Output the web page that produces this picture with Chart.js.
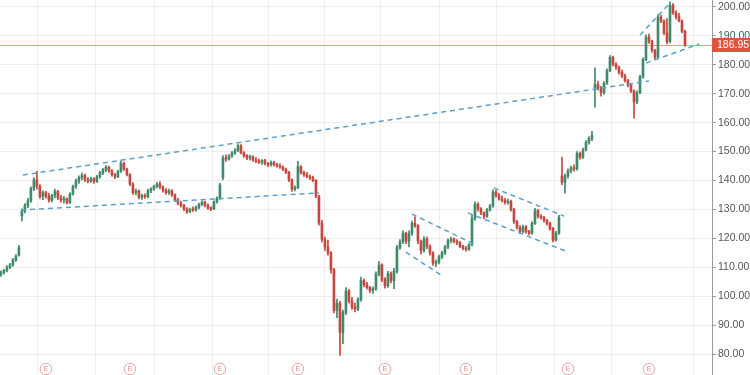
<!DOCTYPE html>
<html><head><meta charset="utf-8">
<script src="https://cdn.jsdelivr.net/npm/chart.js@4/dist/chart.umd.min.js"></script>
<style>html,body{margin:0;padding:0;background:#fff}#wrap{width:750px;height:375px}</style>
</head><body><div id="wrap"><canvas id="c" width="750" height="375"></canvas></div>
<script>
const opens = [107.5,108.2,108.9,110.0,110.8,112.5,114.2,127.8,129.5,131.4,
133.0,137.2,140.3,138.0,134.5,135.8,134.6,133.2,134.8,136.2,
134.0,133.3,133.7,132.4,135.3,137.9,139.8,141.0,141.8,140.3,
139.8,140.6,139.7,141.3,142.6,143.7,144.6,143.4,142.0,141.3,
143.1,146.0,144.0,142.0,138.8,135.8,136.4,134.2,134.8,134.4,
136.5,137.1,137.9,138.8,137.8,136.6,135.8,136.4,135.0,133.3,
132.2,131.4,130.2,129.2,130.0,129.8,130.7,131.8,132.5,131.4,
130.5,130.2,132.6,133.9,141.0,147.8,147.4,148.5,149.5,150.4,
152.0,149.6,148.6,147.8,148.2,147.1,146.7,146.4,146.9,145.9,
145.4,146.2,145.5,145.0,144.7,143.9,142.9,140.2,137.0,137.6,
144.8,142.8,142.0,141.4,141.0,140.1,134.6,125.3,119.6,117.0,
115.0,109.2,95.0,97.6,87.5,94.4,101.8,98.4,96.2,95.6,
98.8,105.4,104.0,103.0,102.0,102.6,107.6,110.8,105.8,103.6,
107.8,105.4,108.6,116.8,118.8,121.8,119.0,121.6,125.2,124.4,
119.0,115.8,119.8,117.2,115.0,111.4,111.8,113.6,115.0,117.0,
119.2,119.8,118.9,118.6,117.2,116.6,116.2,117.8,126.8,131.8,
130.2,128.8,127.6,129.8,131.2,136.0,134.8,133.6,133.2,132.4,
132.8,130.0,125.8,123.8,122.4,124.0,122.4,121.8,125.2,129.6,
127.6,127.2,126.2,125.2,123.4,119.4,121.8,141.6,139.4,141.6,
143.4,144.4,144.0,149.4,148.0,150.6,153.2,154.6,172.0,173.2,
172.0,170.4,173.6,178.0,182.6,180.2,179.2,177.4,176.2,174.6,
173.0,171.0,167.2,170.4,175.8,181.8,189.6,188.2,185.0,182.6,
196.6,195.2,191.0,188.0,200.6,198.0,196.6,195.2,191.6];
const highs = [108.8,109.3,110.6,111.4,113.1,114.4,117.6,130.2,132.0,133.8,
137.8,141.0,143.2,138.6,136.4,136.3,135.6,135.2,137.0,136.6,
134.9,134.5,134.0,135.8,138.4,140.5,141.6,142.6,142.2,141.0,
141.2,141.0,141.8,143.2,144.2,145.2,145.0,143.8,142.5,143.6,
146.8,146.4,144.3,142.4,139.3,137.0,136.8,135.3,135.4,137.0,
137.6,138.4,139.4,139.6,138.2,137.2,137.0,136.9,135.4,133.8,
132.9,131.8,130.6,130.5,130.9,131.2,132.2,133.0,132.9,131.9,
130.9,133.0,134.4,139.0,148.6,148.9,149.0,150.0,151.0,152.6,
152.4,150.0,149.0,148.8,148.6,147.9,147.4,147.2,147.3,146.3,
146.8,146.6,146.0,145.8,145.1,144.3,143.2,140.6,138.2,146.6,
145.2,143.3,142.8,142.0,141.5,140.3,135.0,126.2,120.4,119.4,
115.4,109.6,99.0,98.2,95.2,103.0,102.4,99.6,97.6,99.4,
106.6,106.0,104.8,103.4,103.2,108.4,112.0,111.2,106.4,108.6,
108.4,109.6,117.6,119.6,122.6,122.2,122.6,126.0,127.4,124.8,
119.4,120.6,120.4,117.8,115.4,112.6,114.2,115.6,117.6,119.8,
120.4,120.2,119.6,118.9,117.6,117.2,118.2,128.0,132.6,132.4,
130.6,129.2,130.4,131.8,136.8,136.6,135.6,134.6,133.8,133.6,
133.2,130.4,126.2,124.4,124.6,124.4,122.8,125.8,130.4,130.0,
128.2,127.6,126.6,125.6,123.8,122.4,128.0,148.0,142.2,144.0,
145.0,145.4,150.0,149.8,151.2,153.8,155.2,157.0,179.0,174.4,
172.6,174.2,178.6,183.2,183.0,180.8,179.6,178.2,176.8,175.0,
173.4,171.4,171.0,176.4,182.4,190.4,190.6,188.6,185.4,197.4,
197.2,195.6,196.0,201.8,201.2,198.8,197.8,195.6,192.0];
const lows = [106.8,107.6,108.4,109.5,110.3,112.0,113.8,126.0,128.8,130.6,
132.4,136.5,137.0,133.8,133.4,133.9,132.5,132.6,134.0,133.4,
132.5,132.2,131.8,132.0,134.9,137.3,139.0,140.2,139.6,139.2,
139.3,139.0,139.3,140.8,142.0,143.1,142.8,141.5,140.6,141.0,
142.8,143.5,141.6,138.2,135.2,135.0,133.6,133.5,133.8,134.0,
135.8,136.6,137.4,137.2,136.0,135.2,135.2,134.5,132.8,131.6,
130.8,129.6,128.6,128.8,129.3,129.4,130.2,131.3,130.9,130.0,
129.6,129.9,132.2,133.5,140.2,146.6,147.0,148.0,149.0,150.0,
149.2,148.0,147.2,147.0,146.6,146.2,145.8,145.6,145.4,144.8,
145.0,145.0,144.6,144.2,143.4,142.4,139.6,136.2,136.4,137.2,
142.2,141.4,140.9,140.3,139.6,134.0,124.6,118.8,115.8,114.2,
108.0,94.2,92.6,79.5,83.6,93.6,97.6,95.4,94.6,95.0,
98.2,103.2,102.4,101.2,101.0,102.0,107.0,105.0,102.8,103.0,
104.6,102.6,108.0,116.2,118.2,118.2,117.0,121.0,123.8,118.2,
114.6,115.2,116.4,114.2,110.6,110.2,111.2,113.0,114.4,116.4,
118.4,118.4,117.8,116.8,116.0,115.6,115.8,117.4,126.2,129.4,
128.2,126.8,127.2,129.4,130.8,134.2,133.2,132.6,131.8,131.8,
129.4,125.2,123.2,121.8,122.0,121.8,121.2,121.4,124.8,127.0,
126.6,125.6,124.6,122.8,118.8,119.0,121.4,138.6,135.6,140.8,
142.6,143.2,143.6,147.4,147.6,150.2,152.6,153.8,165.4,171.2,
169.2,169.8,173.2,177.6,179.6,178.4,176.8,175.6,174.0,172.4,
170.4,161.6,166.6,170.0,175.4,181.4,187.4,184.4,181.8,182.2,
194.6,190.4,187.2,187.6,197.4,195.8,194.8,191.0,186.4];
const closes = [108.2,108.9,110.0,110.8,112.5,113.9,116.8,129.5,131.4,133.0,
137.2,140.3,138.0,134.5,135.8,134.6,133.2,134.8,136.2,134.0,
133.3,133.7,132.4,135.3,137.9,139.8,141.0,141.8,140.3,139.8,
140.6,139.7,141.3,142.6,143.7,144.6,143.4,142.0,141.3,143.1,
146.0,144.0,142.0,138.8,135.8,136.4,134.2,134.8,134.4,136.5,
137.1,137.9,138.8,137.8,136.6,135.8,136.4,135.0,133.3,132.2,
131.4,130.2,129.2,130.0,129.8,130.7,131.8,132.5,131.4,130.5,
130.2,132.6,133.9,138.5,147.8,147.4,148.5,149.5,150.4,152.0,
149.6,148.6,147.8,148.2,147.1,146.7,146.4,146.9,145.9,145.4,
146.2,145.5,145.0,144.7,143.9,142.9,140.2,137.0,137.6,144.8,
142.8,142.0,141.4,141.0,140.1,134.6,125.3,119.6,117.0,115.0,
109.2,95.0,97.6,87.5,94.4,101.8,98.4,96.2,95.6,98.8,
105.4,104.0,103.0,102.0,102.6,107.6,110.8,105.8,103.6,107.8,
105.4,108.6,116.8,118.8,121.8,119.0,121.6,125.2,124.4,119.0,
115.8,119.8,117.2,115.0,111.4,111.8,113.6,115.0,117.0,119.2,
119.8,118.9,118.6,117.2,116.6,116.2,117.8,126.8,131.8,130.2,
128.8,127.6,129.8,131.2,136.0,134.8,133.6,133.2,132.4,132.8,
130.0,125.8,123.8,122.4,124.0,122.4,121.8,125.2,129.6,127.6,
127.2,126.2,125.2,123.4,119.4,121.8,127.4,139.4,141.6,143.4,
144.4,144.0,149.4,148.0,150.6,153.2,154.6,155.6,173.2,172.0,
170.4,173.6,178.0,182.6,180.2,179.2,177.4,176.2,174.6,173.0,
171.0,167.2,170.4,175.8,181.8,189.6,188.2,185.0,182.6,196.6,
195.2,191.0,188.0,200.6,198.0,196.6,195.2,191.6,186.95];

const lastPrice = 186.95;
const earningsIdx = [15, 43, 73, 99, 128, 155, 189, 216];
const monthTicks = [12.3, 31.6, 51.3, 70.6, 89.3, 108, 126.6, 146.3, 165.3, 184.6, 203.6, 230.8];
const priceTicks = [80, 90, 100, 110, 120, 130, 140, 150, 160, 170, 180, 190, 200];
// trend lines: [startIndex, startPrice, endIndex, endPrice]
const trendLines = [
  [7.3, 141.9, 216, 174.4],
  [6.7, 129.8, 106, 135.7],
  [137, 128.4, 158.3, 117.7],
  [135, 115.2, 146.7, 107.3],
  [164.3, 137.4, 187.7, 127.7],
  [155.7, 128.8, 189, 115.3],
  [215, 180.6, 232.7, 187.2],
  [213, 190.3, 223.3, 201.7]
];

const GREEN = '#3f8a68', RED = '#c4483f';
const idx = closes.map((_, i) => i);
const colors = idx.map(i => closes[i] >= opens[i] ? GREEN : RED);

const overlay = {
  id: 'overlay',
  beforeDatasetsDraw(chart) {
    const {ctx, chartArea, scales} = chart;
    const y = Math.round(scales.y.getPixelForValue(lastPrice)) + 0.5;
    ctx.save();
    ctx.strokeStyle = 'rgba(232,120,100,0.75)';
    ctx.lineWidth = 1;
    ctx.beginPath(); ctx.moveTo(chartArea.left, y); ctx.lineTo(chartArea.right, y); ctx.stroke();
    ctx.restore();
  },
  afterDraw(chart) {
    const {ctx, chartArea, scales} = chart;
    const y = scales.y.getPixelForValue(lastPrice);
    ctx.save();
    ctx.fillStyle = '#e0533d';
    ctx.fillRect(chartArea.right, Math.round(y) - 7, chart.width - chartArea.right, 14);
    ctx.fillStyle = '#fff';
    ctx.font = '10.5px "Liberation Sans", Arial, sans-serif';
    ctx.textAlign = 'left'; ctx.textBaseline = 'middle';
    ctx.fillText(lastPrice.toFixed(2), chartArea.right + 5, Math.round(y) + 0.5);
    // earnings markers
    const ey = chartArea.bottom - 6;
    earningsIdx.forEach(i => {
      const ex = scales.x.getPixelForValue(i);
      ctx.beginPath(); ctx.arc(ex, ey, 5.8, 0, Math.PI * 2);
      ctx.fillStyle = '#fff'; ctx.fill();
      ctx.strokeStyle = '#eaa5a5'; ctx.lineWidth = 1; ctx.stroke();
      ctx.fillStyle = '#e08c8c'; ctx.font = '7px "Liberation Sans", Arial, sans-serif';
      ctx.textAlign = 'center'; ctx.textBaseline = 'middle';
      ctx.fillText('E', ex, ey + 0.5);
    });
    ctx.restore();
  }
};

new Chart(document.getElementById('c'), {
  type: 'bar',
  data: {
    datasets: [
      {type: 'bar', label: 'wick', data: idx.map(i => ({x: i, y: [lows[i], highs[i]]})), backgroundColor: colors, barThickness: 1, grouped: false, order: 2},
      {type: 'bar', label: 'body', data: idx.map(i => ({x: i, y: [opens[i], closes[i]]})), backgroundColor: colors, barThickness: 2, minBarLength: 1, grouped: false, order: 1},
      ...trendLines.map(t => ({type: 'line', label: 'trend', data: [{x: t[0], y: t[1]}, {x: t[2], y: t[3]}], borderColor: '#5b9fcb', borderWidth: 1.5, borderDash: [5, 4], pointRadius: 0, fill: false, order: 0}))
    ]
  },
  options: {
    responsive: false, animation: false, devicePixelRatio: 1,
    layout: {padding: 0},
    plugins: {legend: {display: false}, tooltip: {enabled: false}},
    scales: {
      x: {
        type: 'linear', min: -0.3, max: 237, offset: false,
        ticks: {display: false},
        grid: {color: 'rgba(0,0,0,0.065)', drawTicks: false, offset: false},
        border: {display: false},
        afterBuildTicks: s => { s.ticks = monthTicks.map(v => ({value: v})); },
        afterFit: s => { s.height = 0; s.paddingLeft = 0; s.paddingRight = 0; }
      },
      y: {
        position: 'right', min: 72.75, max: 202.42,
        afterBuildTicks: s => { s.ticks = priceTicks.map(v => ({value: v})); },
        ticks: {callback: v => Number(v).toFixed(2), color: '#555', font: {size: 10.5, family: '"Liberation Sans", Arial, sans-serif'}, padding: 2},
        grid: {color: 'rgba(0,0,0,0.065)', tickLength: 4, tickColor: '#9a9a9a'},
        border: {display: true, color: '#9a9a9a'},
        afterFit: s => { s.width = 38; s.paddingTop = 0; s.paddingBottom = 0; }
      }
    }
  },
  plugins: [overlay]
});
</script></body></html>
